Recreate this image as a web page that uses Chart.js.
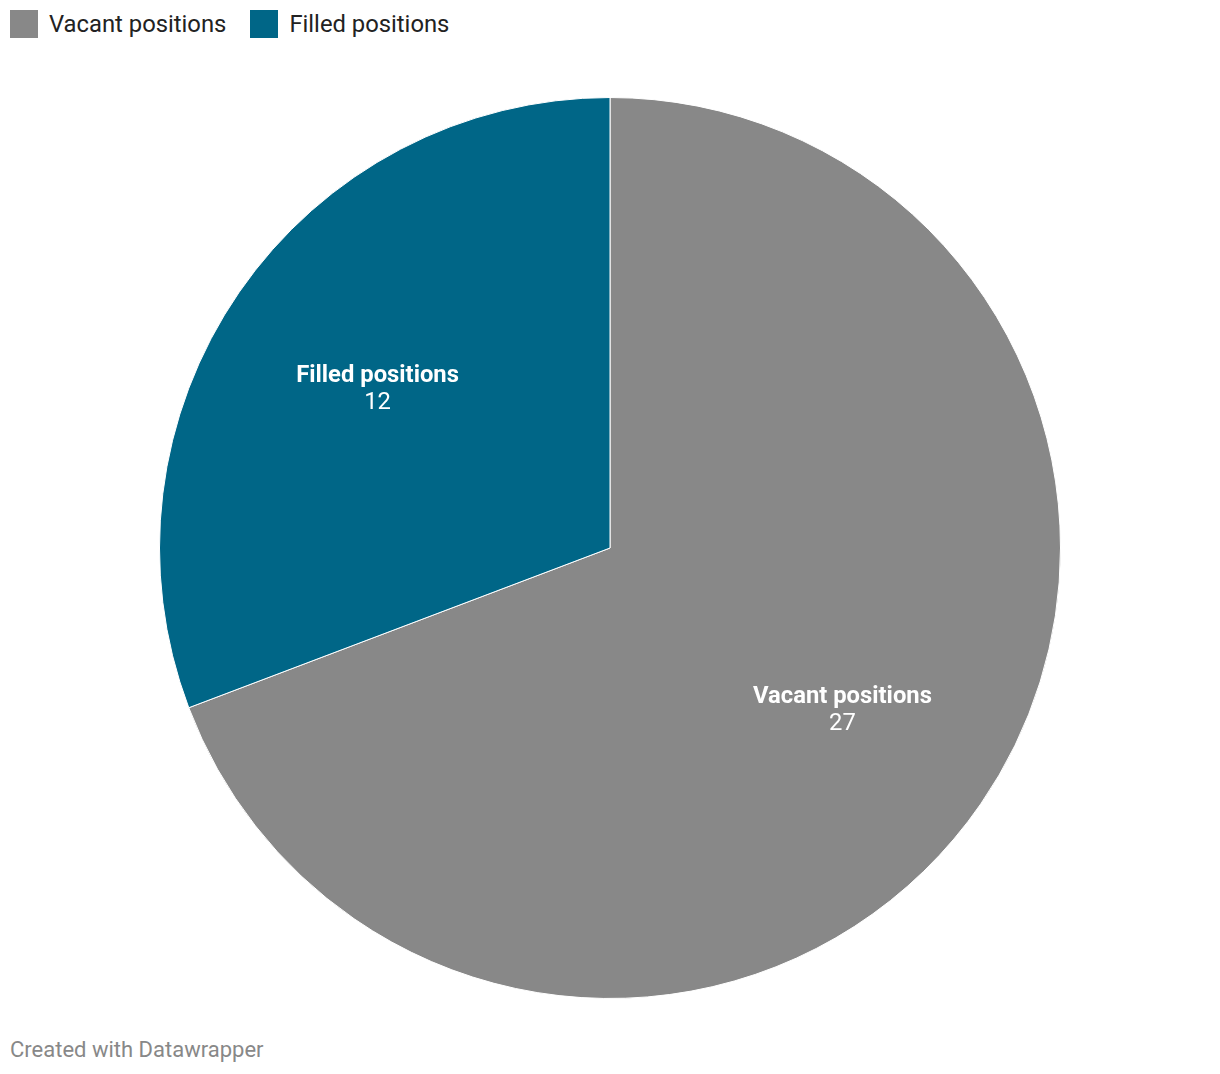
<!DOCTYPE html>
<html>
<head>
<meta charset="utf-8">
<script src="https://cdn.jsdelivr.net/npm/chart.js@4/dist/chart.umd.min.js"></script>
<style>
body { margin: 0; background: #fff; font-family: Roboto, sans-serif; width: 1220px; height: 1074px; position: relative; overflow: hidden; }
#legend { position: absolute; left: 10px; top: 10px; display: flex; font-size: 23.8px; color: #222; }
#legend .item { display: flex; align-items: center; margin-right: 24px; height: 28px; }
#legend .box { width: 28px; height: 28px; margin-right: 11px; }
#wrap { position: absolute; left: 159px; top: 97px; width: 902px; height: 902px; }
#footer { position: absolute; left: 10px; top: 1037px; font-size: 22px; color: #888; }
</style>
</head>
<body>
<div id="legend"></div>
<div id="wrap"><canvas id="pie" width="902" height="902"></canvas></div>
<div id="footer">Created with Datawrapper</div>
<script>
const labels = ['Vacant positions', 'Filled positions'];
const values = [27, 12];
const colors = ['#888888', '#006687'];

// legend
const legend = document.getElementById('legend');
labels.forEach(function(l, i){
	const item = document.createElement('div');
	item.className = 'item';
	item.innerHTML = '<div class="box" style="background:' + colors[i] + '"></div>' + l;
	legend.appendChild(item);
});

// labels inside slices
const sliceLabels = {
	id: 'sliceLabels',
	afterDatasetsDraw(chart){
		const ctx = chart.ctx;
		chart.getDatasetMeta(0).data.forEach(function(arc, i){
			const a = (arc.startAngle + arc.endAngle) / 2;
			const r = arc.outerRadius * 0.627;
			const x = arc.x + Math.cos(a) * r;
			const y = arc.y + Math.sin(a) * r;
			ctx.save();
			ctx.fillStyle = '#fff';
			ctx.textAlign = 'center';
			ctx.textBaseline = 'middle';
			ctx.font = 'bold 23.8px Roboto';
			ctx.fillText(labels[i], x, y - 11.5);
			ctx.font = '23.8px Roboto';
			ctx.fillText(values[i], x, y + 15.5);
			ctx.restore();
		});
	}
};

new Chart(document.getElementById('pie'), {
	type: 'pie',
	data: {
		labels: labels,
		datasets: [{
			data: values,
			backgroundColor: colors,
			borderColor: '#fff',
			borderWidth: 1
		}]
	},
	options: {
		responsive: false,
		animation: false,
		plugins: {
			legend: { display: false },
			tooltip: { enabled: false }
		}
	},
	plugins: [sliceLabels]
});
</script>
</body>
</html>
